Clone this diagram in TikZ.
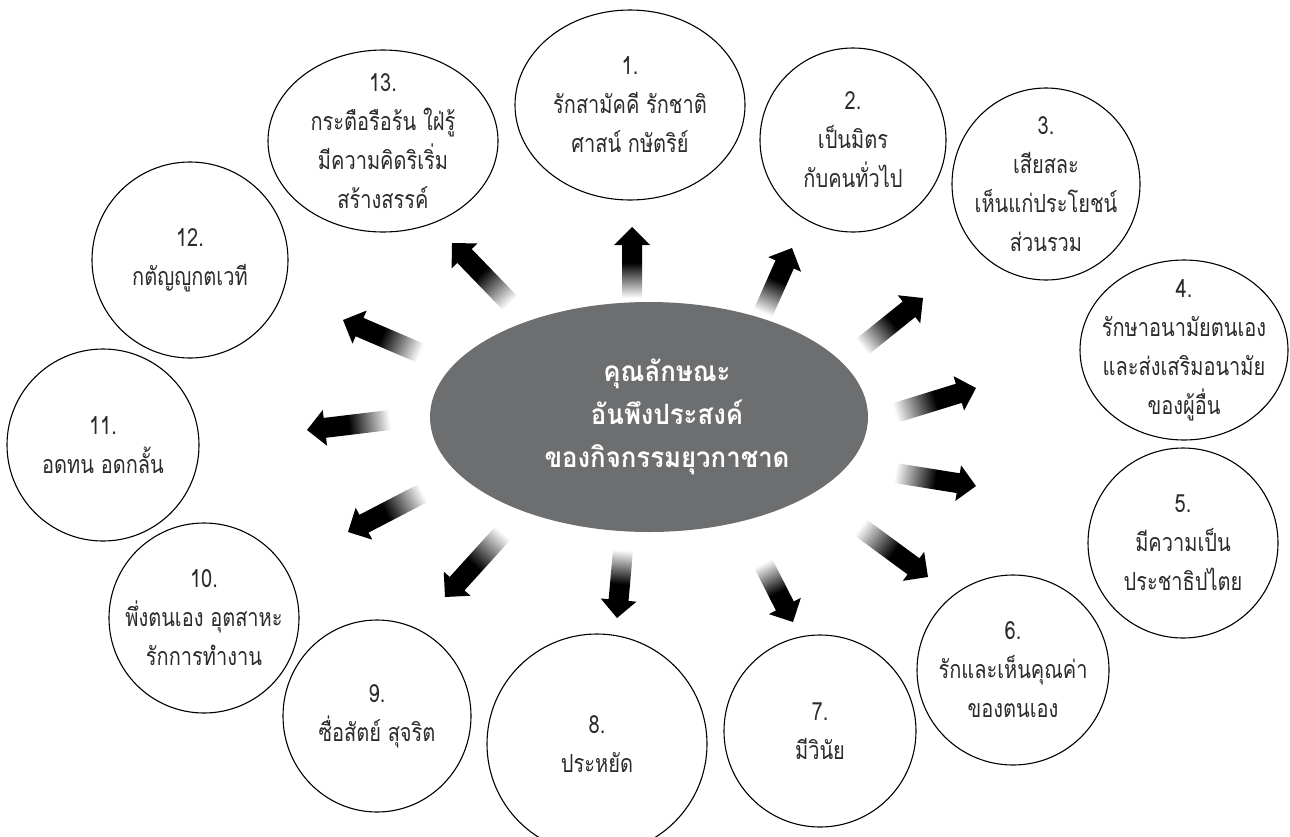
\documentclass[tikz,border=0pt]{standalone}
\usepackage{fontspec}
\setmainfont[Script=Thai]{Loma}
\newfontfamily\bubblefont[Script=Thai,FakeStretch=0.8]{Loma}
\newfontfamily\hubfont[Script=Thai,FakeStretch=0.92]{Loma}
\usetikzlibrary{calc,shapes.geometric}
\definecolor{hubgray}{HTML}{6D6E70}
\definecolor{inkgray}{HTML}{2B2B2B}
\tikzset{
  bubble/.style={ellipse, draw=black, line width=1.1pt, inner sep=0pt},
  bubbletext/.style={align=center, inner sep=0pt, text=inkgray, font=\bubblefont\fontsize{25}{39}\selectfont},
  hub/.style={ellipse, fill=hubgray, inner sep=0pt},
  hubtext/.style={align=center, inner sep=0pt, text=white, font=\hubfont\bfseries\fontsize{28}{43}\selectfont},
  arrowshade/.style={left color=white, right color=black, middle color=black}
}
\newcommand\gradarrow[2]{%
  \path let \p1=($(#2)-(#1)$) in \pgfextra{%
    \pgfmathsetmacro\tmpang{atan2(\y1,\x1)}%
    \pgfmathsetmacro\tmplen{veclen(\x1,\y1)}%
    \xdef\garang{\tmpang}\xdef\garlen{\tmplen}};
  \pgfmathsetmacro\garbase{\garlen-18}%
  \begin{scope}[transform canvas={shift={(#1)},rotate=\garang}]
    \shade[arrowshade] (0pt,-10pt) -- (\garbase pt,-10pt) -- (\garbase pt,-18pt) -- (\garlen pt,0pt) -- (\garbase pt,18pt) -- (\garbase pt,10pt) -- (0pt,10pt) -- cycle;
  \end{scope}}
\begin{document}
\begin{tikzpicture}[x=1pt,y=-1pt]
\useasboundingbox (0,0) rectangle (1290,836);
\fill[white] (0,0) rectangle (1290,836);

% centre
\node[hub, minimum width=438pt, minimum height=230pt] (hub) at (649,417) {};
\node[hubtext, xshift=18pt] (hubt) at (hub) {คุณลักษณะ\\อันพึงประสงค์\\ของกิจกรรมยุวกาชาด};

% bubbles
\node[bubble, minimum width=230pt, minimum height=190pt] (b1) at (630,105) {};
\node[bubbletext] (t1) at (b1) {1.\\รักสามัคคี รักชาติ\\ศาสน์ กษัตริย์};
\node[bubble, minimum width=186pt, minimum height=184pt] (b2) at (853,140) {};
\node[bubbletext] (t2) at (b2) {2.\\เป็นมิตร\\กับคนทั่วไป};
\node[bubble, minimum width=188pt, minimum height=192pt] (b3) at (1046,184) {};
\node[bubbletext] (t3) at (b3) {3.\\เสียสละ\\เห็นแก่ประโยชน์\\ส่วนรวม};
\node[bubble, minimum width=208pt, minimum height=180pt] (b4) at (1184,350) {};
\node[bubbletext] (t4) at (b4) {4.\\รักษาอนามัยตนเอง\\และส่งเสริมอนามัย\\ของผู้อื่น};
\node[bubble, minimum width=190pt, minimum height=190pt] (b5) at (1183,543) {};
\node[bubbletext] (t5) at (b5) {5.\\มีความเป็น\\ประชาธิปไตย};
\node[bubble, minimum width=192pt, minimum height=190pt] (b6) at (1013,670) {};
\node[bubbletext] (t6) at (b6) {6.\\รักและเห็นคุณค่า\\ของตนเอง};
\node[bubble, minimum width=192pt, minimum height=192pt] (b7) at (820,731) {};
\node[bubbletext] (t7) at (b7) {7.\\มีวินัย};
\node[bubble, minimum width=220pt, minimum height=220pt] (b8) at (597,744) {};
\node[bubbletext] (t8) at (b8) {8.\\ประหยัด};
\node[bubble, minimum width=188pt, minimum height=192pt] (b9) at (377,716) {};
\node[bubbletext] (t9) at (b9) {9.\\ซื่อสัตย์ สุจริต};
\node[bubble, minimum width=190pt, minimum height=190pt] (b10) at (204,618) {};
\node[bubbletext] (t10) at (b10) {10.\\พึ่งตนเอง อุตสาหะ\\รักการทำงาน};
\node[bubble, minimum width=192pt, minimum height=192pt] (b11) at (103,445) {};
\node[bubbletext] (t11) at (b11) {11.\\อดทน อดกลั้น};
\node[bubble, minimum width=196pt, minimum height=196pt] (b12) at (190,260) {};
\node[bubbletext] (t12) at (b12) {12.\\กตัญญูกตเวที};
\node[bubble, minimum width=230pt, minimum height=182pt] (b13) at (383,141) {};
\node[bubbletext] (t13) at (b13) {13.\\กระตือรือร้น ใฝ่รู้\\มีความคิดริเริ่ม\\สร้างสรรค์};

% arrow ends
\coordinate (s1) at (632,298);  \coordinate (e1) at (632,227);
\coordinate (s2) at (763,313);  \coordinate (e2) at (792,248);
\coordinate (s3) at (862,347);  \coordinate (e3) at (923,298);
\coordinate (s4) at (895,413);  \coordinate (e4) at (976,388);
\coordinate (s5) at (895,473);  \coordinate (e5) at (976,486);
\coordinate (s6) at (860,527);  \coordinate (e6) at (928,577);
\coordinate (s7) at (763,563);  \coordinate (e7) at (793,622);
\coordinate (s8) at (623,550);  \coordinate (e8) at (617,618);
\coordinate (s9) at (503,533);  \coordinate (e9) at (445,597);
\coordinate (s10) at (423,493); \coordinate (e10) at (348,532);
\coordinate (s11) at (390,420); \coordinate (e11) at (307,430);
\coordinate (s12) at (420,353); \coordinate (e12) at (343,320);
\coordinate (s13) at (510,303); \coordinate (e13) at (452,243);

\gradarrow{s1}{e1}
\gradarrow{s2}{e2}
\gradarrow{s3}{e3}
\gradarrow{s4}{e4}
\gradarrow{s5}{e5}
\gradarrow{s6}{e6}
\gradarrow{s7}{e7}
\gradarrow{s8}{e8}
\gradarrow{s9}{e9}
\gradarrow{s10}{e10}
\gradarrow{s11}{e11}
\gradarrow{s12}{e12}
\gradarrow{s13}{e13}
\end{tikzpicture}
\end{document}
